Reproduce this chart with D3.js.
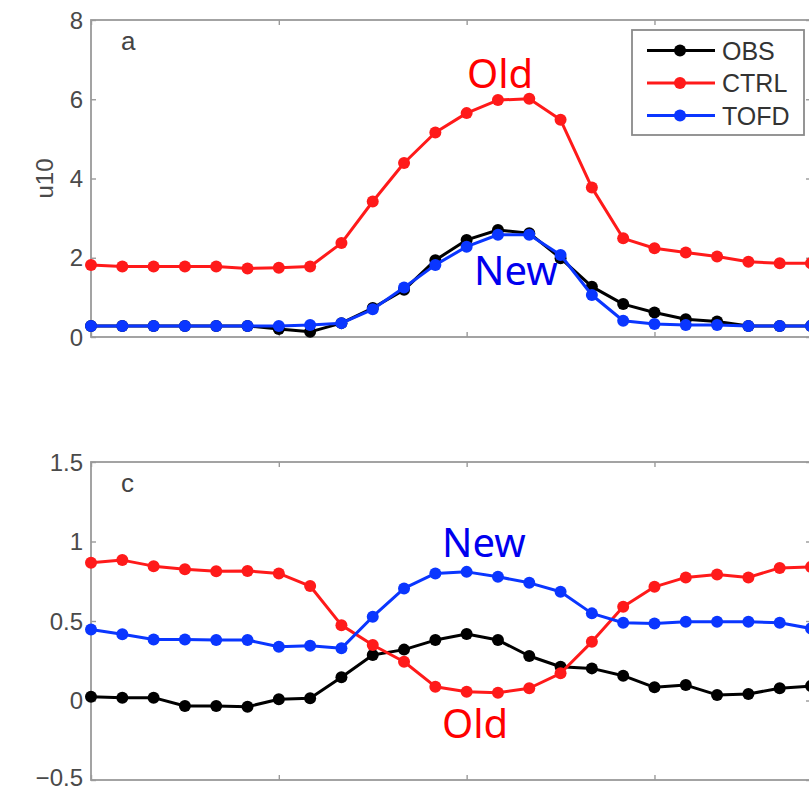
<!DOCTYPE html>
<html>
<head>
<meta charset="utf-8">
<script src="https://cdn.jsdelivr.net/npm/d3@7"></script>
<style>
  body { margin: 0; background: #fff; }
  svg { display: block; }
</style>
</head>
<body>
<script>
// hours of the day (diurnal cycle)
var hours = d3.range(0, 24);
var xTicks = [0, 6, 12, 18];

// panel a: u10
var obsA  = [0.28, 0.28, 0.28, 0.28, 0.28, 0.28, 0.20, 0.13, 0.35, 0.73, 1.19, 1.94,
             2.45, 2.70, 2.62, 1.99, 1.27, 0.83, 0.62, 0.45, 0.39, 0.28, 0.28, 0.28];
var ctrlA = [1.82, 1.78, 1.78, 1.78, 1.78, 1.73, 1.75, 1.78, 2.37, 3.42, 4.39, 5.16,
             5.65, 5.98, 6.01, 5.48, 3.77, 2.49, 2.24, 2.13, 2.03, 1.90, 1.86, 1.86];
var tofdA = [0.28, 0.28, 0.28, 0.28, 0.28, 0.28, 0.28, 0.30, 0.35, 0.70, 1.25, 1.82,
             2.28, 2.58, 2.58, 2.07, 1.06, 0.41, 0.33, 0.30, 0.30, 0.28, 0.28, 0.28];
var yTicksA = [0, 2, 4, 6, 8];

// panel c
var obsC  = [0.024, 0.018, 0.018, -0.035, -0.035, -0.039, 0.008, 0.014, 0.146, 0.286, 0.32, 0.38,
             0.418, 0.38, 0.28, 0.212, 0.202, 0.156, 0.083, 0.097, 0.035, 0.041, 0.077, 0.091];
var ctrlC = [0.866, 0.883, 0.845, 0.826, 0.813, 0.815, 0.799, 0.72, 0.474, 0.349, 0.244, 0.087,
             0.055, 0.049, 0.077, 0.171, 0.369, 0.589, 0.715, 0.774, 0.793, 0.774, 0.834, 0.84];
var tofdC = [0.447, 0.416, 0.384, 0.384, 0.38, 0.38, 0.338, 0.345, 0.328, 0.527, 0.705, 0.799,
             0.809, 0.778, 0.74, 0.684, 0.548, 0.489, 0.485, 0.495, 0.495, 0.495, 0.489, 0.453];
var yTicksC = [-0.5, 0, 0.5, 1, 1.5];

var seriesNames = ["OBS", "CTRL", "TOFD"];
var colors = {OBS: "#000000", CTRL: "#ff1a1a", TOFD: "#0a36ff"};

var W = 809, H = 791;
var svg = d3.select("body").append("svg").attr("width", W).attr("height", H);

var x = d3.scaleLinear().domain([0, 23]).range([91, 811]);

function panel(opts) {
  var y = d3.scaleLinear().domain(opts.yDomain).range(opts.yRange);
  var g = svg.append("g");
  var top = opts.yRange[1], bottom = opts.yRange[0];

  // frame
  g.append("rect")
    .attr("x", x.range()[0]).attr("y", top)
    .attr("width", x.range()[1] - x.range()[0]).attr("height", bottom - top)
    .attr("fill", "none").attr("stroke", "#9a9a9a").attr("stroke-width", 1.8);

  // left axis with labels, ticks pointing in
  var left = g.append("g")
    .attr("transform", "translate(" + x.range()[0] + ",0)")
    .call(d3.axisLeft(y).tickValues(opts.yTicks).tickSize(-5).tickPadding(8)
      .tickFormat(d3.format("")));
  left.select(".domain").remove();
  left.selectAll("line").attr("stroke", "#9a9a9a").attr("stroke-width", 1.4);
  left.selectAll("text").attr("font-family", "Liberation Sans, Arial, sans-serif")
    .attr("font-size", 24).attr("fill", "#4a4a4a")
    // lowest label sits on the page edge, lift it a touch
    .attr("dy", function (d) { return y(d) > H - 14 ? "0.22em" : "0.34em"; });

  var right = g.append("g")
    .attr("transform", "translate(" + x.range()[1] + ",0)")
    .call(d3.axisRight(y).tickValues(opts.yTicks).tickSize(-5).tickFormat(""));
  right.select(".domain").remove();
  right.selectAll("line").attr("stroke", "#9a9a9a").attr("stroke-width", 1.4);

  // x ticks on top and bottom, pointing in, no labels
  [[bottom, d3.axisBottom], [top, d3.axisTop]].forEach(function (p) {
    var ax = g.append("g")
      .attr("transform", "translate(0," + p[0] + ")")
      .call(p[1](x).tickValues(xTicks).tickSize(-5).tickFormat(""));
    ax.select(".domain").remove();
    ax.selectAll("line").attr("stroke", "#9a9a9a").attr("stroke-width", 1.4);
  });

  // panel letter
  g.append("text").attr("x", 121).attr("y", opts.letterY)
    .attr("font-family", "Liberation Sans, Arial, sans-serif").attr("font-size", 26)
    .attr("fill", "#444").text(opts.letter);

  if (opts.yLabel) {
    g.append("text")
      .attr("transform", "translate(53," + ((top + bottom) / 2) + ") rotate(-90)")
      .attr("text-anchor", "middle")
      .attr("font-family", "Liberation Sans, Arial, sans-serif").attr("font-size", 24)
      .attr("fill", "#4a4a4a").text(opts.yLabel);
  }

  var line = d3.line().x(function (d, i) { return x(hours[i]); }).y(function (d) { return y(d); });
  seriesNames.forEach(function (name) {
    var vals = opts.data[name];
    g.append("path").datum(vals)
      .attr("d", line).attr("fill", "none")
      .attr("stroke", colors[name]).attr("stroke-width", 3)
      .attr("stroke-linejoin", "round");
    g.selectAll(null).data(vals).enter().append("circle")
      .attr("cx", function (d, i) { return x(hours[i]); })
      .attr("cy", function (d) { return y(d); })
      .attr("r", 6).attr("fill", colors[name]);
  });

  opts.notes.forEach(function (n) {
    g.append("text").attr("x", n.x).attr("y", n.y)
      .attr("font-family", "Noto Sans, Open Sans, sans-serif").attr("font-size", 40)
      .attr("fill", n.color).text(n.text);
  });
  return g;
}

panel({
  yDomain: [0, 8], yRange: [337, 20], yTicks: yTicksA,
  letter: "a", letterY: 50, yLabel: "u10",
  data: {OBS: obsA, CTRL: ctrlA, TOFD: tofdA},
  notes: [{text: "Old", x: 467, y: 88, color: "#ff0000"},
          {text: "New", x: 474, y: 285, color: "#0000ee"}]
});

panel({
  yDomain: [-0.5, 1.5], yRange: [780, 462], yTicks: yTicksC,
  letter: "c", letterY: 492, yLabel: null,
  data: {OBS: obsC, CTRL: ctrlC, TOFD: tofdC},
  notes: [{text: "New", x: 442, y: 557, color: "#0000ee"},
          {text: "Old", x: 442, y: 738, color: "#ff0000"}]
});

// legend for panel a
var legend = svg.append("g");
legend.append("rect").attr("x", 632).attr("y", 30).attr("width", 172).attr("height", 105)
  .attr("fill", "#fff").attr("stroke", "#8a8a8a").attr("stroke-width", 1.8);
seriesNames.forEach(function (name, i) {
  var ly = 50.5 + i * 32.5;
  legend.append("line").attr("x1", 647).attr("x2", 715).attr("y1", ly).attr("y2", ly)
    .attr("stroke", colors[name]).attr("stroke-width", 3);
  legend.append("circle").attr("cx", 680).attr("cy", ly).attr("r", 6).attr("fill", colors[name]);
  legend.append("text").attr("x", 722).attr("y", ly).attr("dy", "0.36em")
    .attr("font-family", "Liberation Sans, Arial, sans-serif").attr("font-size", 25)
    .attr("fill", "#333").text(name);
});
</script>
</body>
</html>
